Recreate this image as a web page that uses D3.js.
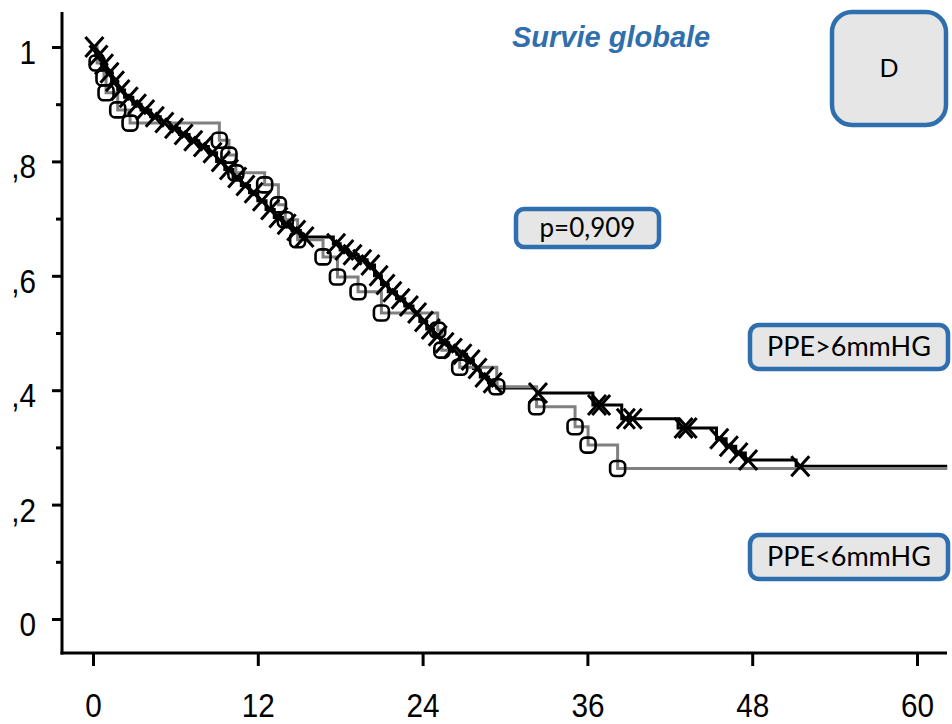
<!DOCTYPE html>
<html>
<head>
<meta charset="utf-8">
<script src="https://cdn.jsdelivr.net/npm/d3@7"></script>
<style>
  body { margin: 0; background: #fff; }
  svg { display: block; }
</style>
</head>
<body>
<svg id="chart" width="952" height="724"></svg>
<script>
// Axis ticks
const xTicks = [0, 12, 24, 36, 48, 60];
const yTicks = [0, 0.2, 0.4, 0.6, 0.8, 1];
const yTickLabels = ["0", ",2", ",4", ",6", ",8", "1"];
const yMinorTicks = [0.1, 0.3, 0.5, 0.7, 0.9];
const followUpEnd = 62.2;

// PPE>6mmHG : event times (months) and survival after each event
const highEventTimes = [0.2, 0.6, 1.0, 1.4, 1.8, 2.3, 2.9, 3.5, 4.2, 4.9, 5.6, 6.3, 7.0, 7.7, 8.4, 9.0, 9.6, 10.2, 10.8, 11.4, 12.0, 12.6, 13.2, 13.8, 14.5, 15.1,
  17.5, 18.0, 18.6, 19.3, 19.96, 20.5, 21.0, 21.5, 22.1, 22.7, 23.3, 23.8, 24.3, 24.8, 25.3, 25.9, 26.5, 27.2, 27.7, 28.2, 28.8, 29.4,
  32.3, 36.4, 38.5, 42.6, 45.4, 46.1, 46.8, 47.5, 51.2];
const highSurvival = [0.985, 0.97, 0.955, 0.94, 0.925, 0.912, 0.90, 0.89, 0.878, 0.868, 0.858, 0.847, 0.836, 0.826, 0.815, 0.80, 0.786, 0.772, 0.758, 0.745, 0.731, 0.716, 0.702, 0.69, 0.679, 0.668,
  0.656, 0.645, 0.637, 0.628, 0.619, 0.60, 0.585, 0.572, 0.56, 0.547, 0.535, 0.52, 0.507, 0.495, 0.483, 0.473, 0.463, 0.453, 0.438, 0.423, 0.413, 0.404,
  0.395, 0.374, 0.35, 0.334, 0.315, 0.302, 0.29, 0.278, 0.267];
const highCensorTimes = [0.1, 0.4, 0.8, 1.2, 1.6, 2.0, 2.6, 3.2, 3.8, 4.5, 5.2, 5.9, 6.6, 7.3, 8.0, 8.7, 9.3, 9.9, 10.5, 11.1, 11.7, 12.3, 12.9, 13.5, 14.1, 14.8, 15.4,
  17.7, 18.3, 18.9, 19.6, 20.2, 20.8, 21.3, 21.8, 22.4, 23.0, 23.6, 24.1, 24.6, 25.1, 25.6, 26.2, 26.9, 27.5, 28.0, 28.5, 29.1,
  32.4, 36.7, 37.0, 38.8, 39.3, 43.0, 43.3, 45.6, 46.3, 47.0, 47.7, 51.5];

// PPE<6mmHG : event times (months) and survival after each event
const lowEventTimes = [0.3, 0.8, 0.95, 1.8, 2.7, 9.2, 9.9, 10.4, 12.5, 13.5, 14.0, 14.9, 16.75, 17.8, 19.3, 21.0, 25.1, 25.4, 26.7, 29.4, 32.3, 35.1, 36.05, 38.2];
const lowSurvival = [0.972, 0.946, 0.92, 0.89, 0.867, 0.837, 0.811, 0.78, 0.759, 0.724, 0.698, 0.663, 0.633, 0.598, 0.572, 0.535, 0.505, 0.47, 0.44, 0.406, 0.371, 0.336, 0.304, 0.263];
const lowCensorTimes = [0.3, 0.8, 0.95, 1.8, 2.7, 9.2, 9.9, 10.4, 12.5, 13.5, 14.0, 14.9, 16.75, 17.8, 19.3, 21.0, 25.1, 25.4, 26.7, 29.4, 32.3, 35.1, 36.05, 38.2];

const blue = "#2f6fae";
const svg = d3.select("#chart");

const x = d3.scaleLinear().domain([0, 60]).range([93, 917]);
const y = d3.scaleLinear().domain([0, 1]).range([619, 47]);

// Axes
const axisColor = "#000";
const axisFont = "'Liberation Sans', Arial, sans-serif";
const yAxisX = 62, xAxisY = 653;

const yAxis = d3.axisLeft(y).tickValues(yTicks).tickSize(10).tickPadding(16)
  .tickFormat((d, i) => yTickLabels[i]);
const gy = svg.append("g").attr("transform", `translate(${yAxisX},0)`).call(yAxis);
gy.select(".domain").remove();
gy.selectAll(".tick line").attr("stroke", axisColor).attr("stroke-width", 3);
gy.selectAll(".tick text")
  .attr("font-family", axisFont).attr("font-size", 33).attr("fill", "#000").attr("dy", "0.5em")
  .style("transform", "scaleX(0.9)").style("transform-box", "fill-box").style("transform-origin", "right");

const gyMinor = svg.append("g").attr("transform", `translate(${yAxisX},0)`)
  .call(d3.axisLeft(y).tickValues(yMinorTicks).tickSize(6).tickFormat(""));
gyMinor.select(".domain").remove();
gyMinor.selectAll(".tick line").attr("stroke", axisColor).attr("stroke-width", 3);

const xAxis = d3.axisBottom(x).tickValues(xTicks).tickSize(13).tickPadding(27.5);
const gx = svg.append("g").attr("transform", `translate(0,${xAxisY})`).call(xAxis);
gx.select(".domain").remove();
gx.selectAll(".tick line").attr("stroke", axisColor).attr("stroke-width", 3);
gx.selectAll(".tick text")
  .attr("font-family", axisFont).attr("font-size", 33).attr("fill", "#000")
  .style("transform", "scaleX(0.9)").style("transform-box", "fill-box").style("transform-origin", "center");

// Axis lines
svg.append("line").attr("x1", yAxisX).attr("x2", yAxisX).attr("y1", 12).attr("y2", xAxisY + 1.5)
  .attr("stroke", axisColor).attr("stroke-width", 3);
svg.append("line").attr("x1", yAxisX - 1.5).attr("x2", 947).attr("y1", xAxisY).attr("y2", xAxisY)
  .attr("stroke", axisColor).attr("stroke-width", 3);

// Kaplan-Meier step curves
function stepPoints(times, surv) {
  const pts = [[0, 1]];
  times.forEach((t, i) => pts.push([t, surv[i]]));
  pts.push([followUpEnd, surv[surv.length - 1]]);
  return pts;
}
function survivalAt(times, surv, t) {
  let s = 1;
  for (let i = 0; i < times.length; i++) if (times[i] <= t) s = surv[i];
  return s;
}
const line = d3.line().x(d => x(d[0])).y(d => y(d[1])).curve(d3.curveStepAfter);

svg.append("path").datum(stepPoints(highEventTimes, highSurvival))
  .attr("d", line).attr("fill", "none").attr("stroke", "#000").attr("stroke-width", 3);
svg.append("path").datum(stepPoints(lowEventTimes, lowSurvival))
  .attr("d", line).attr("fill", "none").attr("stroke", "#808080").attr("stroke-width", 3);

// Censor marks
svg.append("g").selectAll("path").data(highCensorTimes).join("path")
  .attr("transform", t => `translate(${x(t)},${y(survivalAt(highEventTimes, highSurvival, t))})`)
  .attr("d", "M-9,-10L9,10M9,-10L-9,10")
  .attr("fill", "none").attr("stroke", "#000").attr("stroke-width", 3);

svg.append("g").selectAll("rect").data(lowCensorTimes).join("rect")
  .attr("x", t => x(t) - 7.5).attr("y", t => y(survivalAt(lowEventTimes, lowSurvival, t)) - 7.5)
  .attr("width", 15).attr("height", 15).attr("rx", 5)
  .attr("fill", "none").attr("stroke", "#000").attr("stroke-width", 2.6);

// Title
svg.append("text").attr("x", 512).attr("y", 47).text("Survie globale")
  .attr("font-family", axisFont).attr("font-size", 29)
  .attr("font-weight", "bold").attr("font-style", "italic").attr("fill", blue);

// Annotation boxes
const boxFont = "Lato, 'Open Sans', sans-serif";
function labelBox(x0, y0, w, h, r, label, size) {
  svg.append("rect").attr("x", x0).attr("y", y0).attr("width", w).attr("height", h).attr("rx", r)
    .attr("fill", "#e6e6e6").attr("stroke", blue).attr("stroke-width", 4.5);
  svg.append("text").attr("x", x0 + w / 2).attr("y", y0 + h / 2).attr("dy", "0.35em")
    .attr("text-anchor", "middle").attr("font-family", boxFont).attr("font-size", size)
    .attr("fill", "#000").text(label);
}
labelBox(832, 12, 114, 113, 20, "D", 25);
labelBox(516, 209, 143, 38, 8, "p=0,909", 26);
labelBox(750, 325, 198, 44, 9, "PPE>6mmHG", 27);
labelBox(750, 535, 198, 44, 9, "PPE<6mmHG", 27);
</script>
</body>
</html>
